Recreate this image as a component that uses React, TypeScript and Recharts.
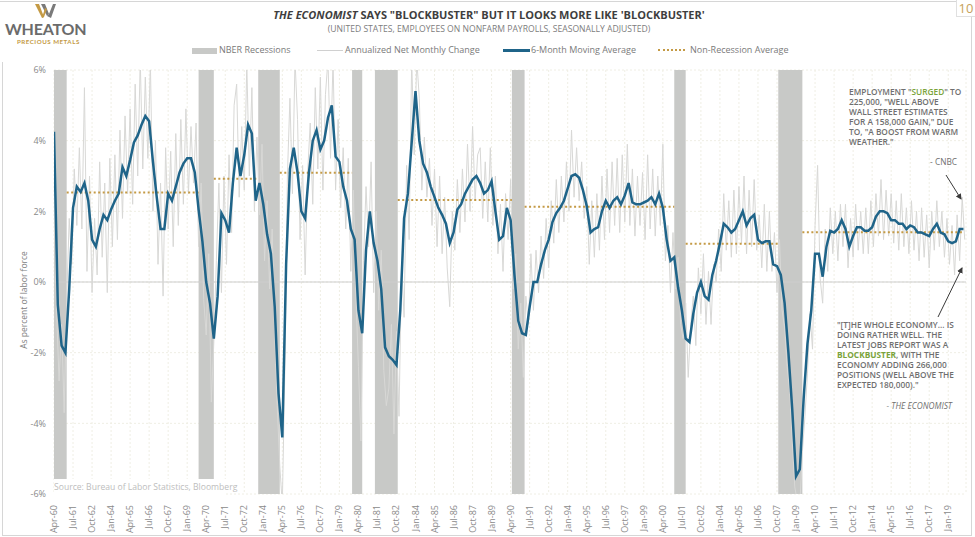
import React from "react";
import {
  ComposedChart,
  Line,
  XAxis,
  YAxis,
  CartesianGrid,
  ReferenceArea,
  ReferenceLine,
} from "recharts";

// months counted from Apr-60 (0)
const tickLabels = [
  "Apr-60", "Jul-61", "Oct-62", "Jan-64", "Apr-65", "Jul-66", "Oct-67", "Jan-69",
  "Apr-70", "Jul-71", "Oct-72", "Jan-74", "Apr-75", "Jul-76", "Oct-77", "Jan-79",
  "Apr-80", "Jul-81", "Oct-82", "Jan-84", "Apr-85", "Jul-86", "Oct-87", "Jan-89",
  "Apr-90", "Jul-91", "Oct-92", "Jan-94", "Apr-95", "Jul-96", "Oct-97", "Jan-99",
  "Apr-00", "Jul-01", "Oct-02", "Jan-04", "Apr-05", "Jul-06", "Oct-07", "Jan-09",
  "Apr-10", "Jul-11", "Oct-12", "Jan-14", "Apr-15", "Jul-16", "Oct-17", "Jan-19",
];

// 6-month moving average, one reading per quarter
const movingAvg = [
  4.25, -0.65, -1.8, -2.0, -0.2, 2.1, 2.7, 2.55, 2.8, 2.3,
  1.2, 1.0, 1.5, 1.9, 1.75, 2.05, 2.3, 2.5, 3.25, 3.0,
  3.45, 3.95, 4.15, 4.45, 4.7, 4.55, 3.4, 2.4, 1.5, 1.5,
  2.5, 2.3, 2.7, 3.1, 3.35, 3.5, 3.5, 3.1, 2.05, 1.15,
  0.0, -0.6, -1.6, -0.4, 1.95, 1.75, 1.4, 2.8, 3.8, 3.0,
  3.6, 4.45, 4.2, 2.3, 2.8, 2.2, 1.35, 0.8, -0.7, -3.15,
  -4.4, 0.5, 3.2, 3.8, 3.1, 2.0, 1.8, 3.1, 4.0, 4.3,
  3.75, 4.0, 4.65, 5.0, 3.55, 3.4, 2.7, 2.3, 1.5, 1.2,
  -0.8, -1.45, 0.9, 2.0, 1.1, 0.6, -0.2, -1.85, -2.1, -2.2,
  -2.35, -0.8, 1.8, 2.5, 3.95, 5.4, 4.0, 3.35, 3.1, 2.7,
  2.4, 2.1, 1.9, 1.65, 1.1, 1.4, 2.05, 2.2, 2.5, 2.7,
  2.9, 3.0, 2.8, 2.5, 2.6, 2.85, 2.0, 1.2, 1.3, 2.1,
  1.75, 0.2, -1.1, -1.45, -1.5, -0.7, 0.0, 0.0, 0.5, 0.9,
  1.2, 1.7, 1.95, 2.1, 2.3, 2.65, 3.0, 3.05, 2.95, 2.6,
  2.15, 1.4, 1.5, 1.55, 2.0, 2.3, 2.1, 2.3, 2.4, 2.2,
  2.45, 2.8, 2.25, 2.2, 2.2, 2.25, 2.3, 2.4, 2.2, 2.5,
  2.1, 1.2, 0.6, 0.7, -0.15, -0.8, -1.6, -1.7, -0.9, -0.3,
  0.0, -0.4, -0.5, 0.2, 0.6, 1.1, 1.65, 1.55, 1.4, 1.5,
  1.75, 2.0, 1.6, 1.8, 1.9, 1.2, 1.1, 1.15, 1.15, 0.5,
  0.45, 0.2, -0.6, -2.0, -3.6, -5.5, -5.3, -3.3, -1.75, -0.8,
  0.8, 0.8, 0.15, 1.0, 1.45, 1.4, 1.5, 1.75, 1.5, 1.0,
  1.3, 1.55, 1.55, 1.45, 1.45, 1.55, 1.85, 2.0, 2.0, 1.95,
  1.75, 1.75, 1.65, 1.65, 1.5, 1.6, 1.55, 1.4, 1.4, 1.35,
  1.3, 1.5, 1.65, 1.4, 1.35, 1.15, 1.1, 1.15, 1.5, 1.5,
];

// annualized net monthly change, one reading every two months
const monthlyChange = [
  3.0, -0.8, -2.8, -1.2, -3.7, -0.5, 1.8, 0.5, 3.2, 1.6, 3.8, 1.5,
  5.5, 0.3, 3.0, -0.3, 1.8, 0.2, 3.4, 0.7, 2.8, -0.3, 3.5, 1.0,
  3.6, 1.2, 4.3, 1.8, 4.7, 2.5, 4.9, 2.2, 5.6, 3.0, 6.3, 3.2,
  5.8, 3.5, 6.2, 2.0, 4.0, 0.5, 2.8, -0.4, 3.8, 1.5, 3.7, 1.0,
  4.2, 1.6, 4.6, 2.2, 4.9, 2.5, 4.4, 2.8, 4.5, 1.0, 2.8, -0.5,
  -1.5, 0.8, -3.4, -1.7, 0.6, 2.8, -0.3, 3.0, 0.5, 3.6, 1.4, 5.0,
  5.6, 2.4, 4.4, 2.6, 6.2, 3.0, 5.5, 2.0, 4.1, 1.9, 3.9, 0.6,
  2.3, -0.2, 1.5, -1.5, -3.5, -5.2, -6.3, -2.5, 3.0, 5.2, 2.5, 6.3,
  4.6, 1.2, 3.3, 0.2, 3.1, 4.5, 2.2, 5.5, 3.2, 5.8, 2.6, 5.3,
  6.3, 3.5, 6.3, 2.6, 4.6, 2.1, 3.8, 1.5, 3.5, 0.3, 2.6, -0.4,
  -2.4, -4.5, 0.6, 2.7, 1.0, 3.4, -0.3, 2.0, -0.8, 0.9, -2.5, -3.5,
  -3.0, -1.2, -4.3, -1.4, -3.8, 0.5, -1.0, 3.3, 1.2, 6.3, 3.6, 6.3,
  5.2, 2.6, 4.1, 2.4, 3.5, 1.6, 3.2, 1.0, 3.0, 0.8, 2.4, 0.4,
  -0.7, 2.0, 0.9, 2.9, 1.4, 3.2, 1.7, 3.9, 2.0, 4.4, 2.3, 3.6,
  3.8, 1.8, 3.4, 1.7, 3.8, 1.6, 3.0, 0.8, 2.2, 0.3, 2.5, 1.2,
  2.9, -0.2, 0.8, -1.9, -0.6, -2.7, -0.4, -1.2, 0.8, -0.8, 0.9, -0.3,
  1.3, 0.1, 1.8, 0.4, 2.3, 1.1, 2.9, 1.4, 3.0, 1.7, 3.4, 2.0,
  4.3, 2.4, 3.8, 2.3, 3.4, 1.8, 2.7, 0.5, 2.3, 0.7, 2.5, 0.9,
  3.0, 1.2, 3.2, 1.4, 3.4, 1.6, 3.5, 1.4, 3.6, 1.7, 3.9, 1.6,
  3.2, 1.3, 3.0, 1.6, 3.1, 1.2, 3.6, 1.5, 3.2, 1.3, 3.0, 1.6,
  3.9, 0.6, 1.6, -0.3, 1.4, -0.2, 0.7, -1.2, -1.6, -0.6, -2.7, -1.2,
  -0.4, -1.8, 0.4, -0.9, 0.8, -1.2, 0.3, -1.2, 0.5, 0.0, 1.5, 0.3,
  2.5, 0.9, 2.3, 0.7, 2.6, 0.8, 2.7, 1.1, 3.0, 0.8, 2.6, 1.0,
  2.9, 0.9, 1.9, 0.4, 2.2, 0.3, 2.0, 0.3, 1.4, -0.3, 1.2, -0.8,
  -1.3, -2.4, -3.1, -4.5, -5.8, -6.2, -6.3, -4.8, -3.8, -2.6, -0.9, -1.9,
  1.6, 3.3, 0.1, -0.6, 1.5, 0.3, 2.1, 0.8, 2.0, 0.6, 2.2, 1.0,
  2.2, 0.4, 1.8, 0.7, 2.2, 0.9, 2.0, 0.8, 2.1, 0.8, 2.3, 1.0,
  2.5, 1.3, 2.9, 1.2, 2.6, 1.3, 2.5, 1.1, 2.3, 0.9, 2.5, 1.0,
  2.1, 0.8, 2.3, 0.9, 2.0, 0.6, 2.1, 0.7, 1.9, 0.4, 2.0, 0.9,
  2.3, 1.0, 2.0, 0.7, 1.8, 0.5, 1.6, 0.2, 1.9, 0.6, 2.4, 1.2,
];

// NBER recessions, start/end month
const recessionStart = [0, 114, 161, 235, 253, 361, 489, 571];
const recessionEnd = [10, 126, 178, 243, 271, 371, 498, 590];

// non-recession average, by expansion
const avgStart = [10, 126, 178, 271, 371, 498, 590];
const avgEnd = [114, 161, 235, 361, 489, 571, 716];
const avgValue = [2.53, 2.92, 3.09, 2.32, 2.13, 1.08, 1.41];

const yTicks = [-6, -4, -2, 0, 2, 4, 6];

const maData = movingAvg.map((v, i) => ({ m: i * 3, v }));
const changeData = monthlyChange.map((v, i) => ({ m: i * 2, v }));
const xTicks = tickLabels.map((_, i) => i * 15);

const FONT = "'Open Sans', sans-serif";
const GREY = "#6f6f6f";
const GOLD = "#c49a45";
const BLUE = "#1f6489";
const GREEN = "#7aa33a";

const XTick = (props: any) => {
  const { x, y, payload } = props;
  const label = tickLabels[Math.round(payload.value / 15)];
  return (
    <g transform={`translate(${x},${y})`}>
      <text x={-3} y={0} dy={3} textAnchor="end" transform="rotate(-90)" fontSize={9} fill="#8a8a8a" fontFamily={FONT}>
        {label}
      </text>
    </g>
  );
};

const noteStyle: React.CSSProperties = {
  position: "absolute",
  fontFamily: FONT,
  fontSize: 8.3,
  fontWeight: 600,
  lineHeight: "10px",
  color: GREY,
  whiteSpace: "nowrap",
};

export default function App() {
  return (
    <div style={{ position: "absolute", left: 0, top: 0, width: 975, height: 537, background: "#fff", fontFamily: FONT, overflow: "hidden" }}>
      <ComposedChart
        width={975}
        height={537}
        margin={{ top: 70, right: 9, bottom: 3, left: 14 }}
      >
        <CartesianGrid stroke="#efeee4" strokeDasharray="2 2" />
        <XAxis
          type="number"
          dataKey="m"
          domain={[0, 719]}
          ticks={xTicks}
          interval={0}
          tick={<XTick />}
          tickLine={false}
          axisLine={false}
          height={40}
          allowDataOverflow
        />
        <YAxis
          type="number"
          domain={[-6, 6]}
          ticks={yTicks}
          tickFormatter={(v: number) => `${v}%`}
          tick={{ fontSize: 9, fill: "#8a8a8a", fontFamily: FONT }}
          tickLine={false}
          axisLine={false}
          width={40}
          allowDataOverflow
        />
        <ReferenceLine y={0} stroke="#cdcdcd" strokeWidth={1} />
        {recessionStart.map((s, i) => (
          <ReferenceArea key={"r" + i} x1={s} x2={recessionEnd[i]} y1={-6} y2={6} fill="#c8c9c7" fillOpacity={1} stroke="none" />
        ))}
        <Line
          data={changeData}
          dataKey="v"
          type="linear"
          stroke="#d8d8d6"
          strokeWidth={1}
          dot={false}
          isAnimationActive={false}
        />
        {avgStart.map((s, i) => (
          <ReferenceLine
            key={"a" + i}
            segment={[{ x: s, y: avgValue[i] }, { x: avgEnd[i], y: avgValue[i] }]}
            stroke={GOLD}
            strokeWidth={2}
            strokeDasharray="2 2.5"
          />
        ))}
        <Line
          data={maData}
          dataKey="v"
          type="linear"
          stroke={BLUE}
          strokeWidth={2.5}
          dot={false}
          isAnimationActive={false}
        />
      </ComposedChart>

      {/* frame */}
      <div style={{ position: "absolute", left: 0, top: 1, width: 975, height: 1, background: "#d6d6d6" }} />
      <div style={{ position: "absolute", left: 2, top: 62, width: 1, height: 473, background: "#d6d6d6" }} />
      <div style={{ position: "absolute", left: 971, top: 16, width: 1, height: 519, background: "#d6d6d6" }} />
      <div style={{ position: "absolute", left: 2, top: 535, width: 970, height: 1, background: "#d6d6d6" }} />
      <div style={{ position: "absolute", left: 956, top: 0, width: 18, height: 16, background: "#fff", borderLeft: "1px solid #e0e0e0", borderBottom: "1px solid #e0e0e0", color: "#c7a25a", fontSize: 13, lineHeight: "16px", textAlign: "center" }}>10</div>

      {/* logo */}
      <svg style={{ position: "absolute", left: 33, top: 3 }} width={24} height={16}>
        <polygon points="2,1 6,1 11,14 9,15" fill={GOLD} />
        <polygon points="8,1 12,1 16,11 14,13" fill="#7a7a7a" />
        <polygon points="14,13 16,11 20,1 23,1 18,15" fill="#7a7a7a" />
        <polygon points="9,15 11,14 14,6 12,5" fill={GOLD} />
      </svg>
      <div style={{ position: "absolute", left: 5, top: 21, fontFamily: "Lato, sans-serif", fontSize: 16, fontWeight: 700, color: "#6b6b6b", letterSpacing: -0.2, lineHeight: "15px" }}>WHEATON</div>
      <div style={{ position: "absolute", left: 17, top: 38, fontFamily: "Lato, sans-serif", fontSize: 6.2, fontWeight: 700, color: GOLD, letterSpacing: 0.5, lineHeight: "7px" }}>PRECIOUS METALS</div>

      {/* titles */}
      <div style={{ position: "absolute", left: 0, top: 8, width: 978, textAlign: "center", fontSize: 11, fontWeight: 700, color: "#3e3e3e", lineHeight: "14px" }}>
        <i>THE ECONOMIST</i> SAYS "BLOCKBUSTER" BUT IT LOOKS MORE LIKE 'BLOCKBUSTER'
      </div>
      <div style={{ position: "absolute", left: 0, top: 23, width: 978, textAlign: "center", fontSize: 8.6, color: "#7d7d7d", lineHeight: "12px" }}>
        (UNITED STATES, EMPLOYEES ON NONFARM PAYROLLS, SEASONALLY ADJUSTED)
      </div>

      {/* legend */}
      <div style={{ position: "absolute", left: 192, top: 48, width: 25, height: 6, background: "#c8c9c7" }} />
      <div style={{ position: "absolute", left: 219, top: 44, fontSize: 9, color: "#7a7a7a", lineHeight: "12px" }}>NBER Recessions</div>
      <div style={{ position: "absolute", left: 317, top: 50, width: 26, height: 1, background: "#d0d0d0" }} />
      <div style={{ position: "absolute", left: 345, top: 44, fontSize: 9, color: "#7a7a7a", lineHeight: "12px" }}>Annualized Net Monthly Change</div>
      <div style={{ position: "absolute", left: 503, top: 49, width: 27, height: 3, background: BLUE }} />
      <div style={{ position: "absolute", left: 531, top: 44, fontSize: 9, color: "#7a7a7a", lineHeight: "12px" }}>6-Month Moving Average</div>
      <div style={{ position: "absolute", left: 658, top: 49, width: 27, height: 2, borderTop: `2px dotted ${GOLD}` }} />
      <div style={{ position: "absolute", left: 690, top: 44, fontSize: 9, color: "#7a7a7a", lineHeight: "12px" }}>Non-Recession Average</div>

      {/* axis title and source */}
      <div style={{ position: "absolute", left: 23, top: 300, fontSize: 8.5, color: "#7d7d7d", transform: "translate(-50%, -50%) rotate(-90deg)", whiteSpace: "nowrap" }}>
        As percent of labor force
      </div>
      <div style={{ position: "absolute", left: 54, top: 479, width: 172, height: 16, background: "#fff", fontSize: 8.6, color: "#bdbdbd", lineHeight: "16px", whiteSpace: "nowrap" }}>
        Source: Bureau of Labor Statistics, Bloomberg
      </div>

      {/* annotations */}
      <div style={{ ...noteStyle, left: 849, top: 87 }}>
        EMPLOYMENT "<span style={{ color: GREEN }}>SURGED</span>" TO<br />
        225,000, "WELL ABOVE<br />
        WALL STREET ESTIMATES<br />
        FOR A 158,000 GAIN," DUE<br />
        TO, "A BOOST FROM WARM<br />
        WEATHER."
      </div>
      <div style={{ ...noteStyle, left: 900, top: 157, width: 57, textAlign: "right", fontWeight: 400 }}>- CNBC</div>
      <div style={{ ...noteStyle, left: 837, top: 320 }}>
        "[T]HE WHOLE ECONOMY... IS<br />
        DOING RATHER WELL. THE<br />
        LATEST JOBS REPORT WAS A<br />
        <span style={{ color: GREEN, fontWeight: 700 }}>BLOCKBUSTER</span>, WITH THE<br />
        ECONOMY ADDING 266,000<br />
        POSITIONS (WELL ABOVE THE<br />
        EXPECTED 180,000)."
      </div>
      <div style={{ ...noteStyle, left: 860, top: 401, width: 92, textAlign: "right", fontWeight: 400, fontStyle: "italic" }}>- THE ECONOMIST</div>

      <svg style={{ position: "absolute", left: 0, top: 0, pointerEvents: "none" }} width={975} height={537}>
        <defs>
          <marker id="ah" markerWidth="6" markerHeight="6" refX="5" refY="3" orient="auto">
            <path d="M0,0 L6,3 L0,6 z" fill="#3a3a3a" />
          </marker>
        </defs>
        <line x1={946} y1={175} x2={961} y2={199} stroke="#3a3a3a" strokeWidth={1} markerEnd="url(#ah)" />
        <line x1={938} y1={317} x2={962} y2={268} stroke="#3a3a3a" strokeWidth={1} markerEnd="url(#ah)" />
      </svg>
    </div>
  );
}
